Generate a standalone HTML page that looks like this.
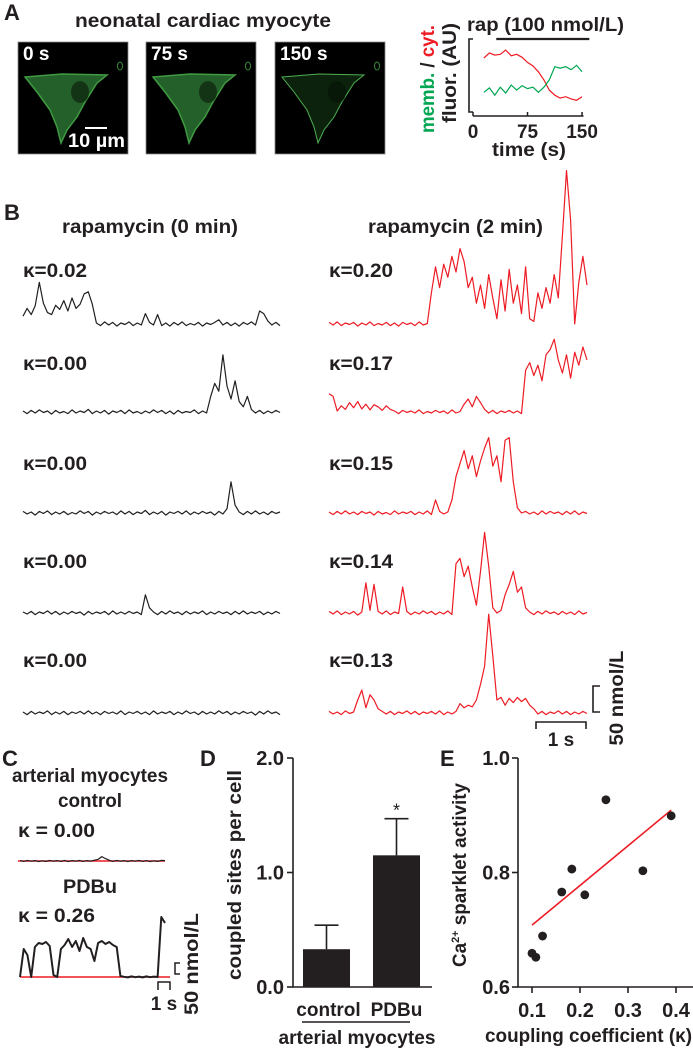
<!DOCTYPE html>
<html><head><meta charset="utf-8">
<style>
html,body{margin:0;padding:0;background:#fff;}
svg{display:block;font-family:"Liberation Sans",Arial,sans-serif;font-weight:bold;}
text{fill:#231f20;}
</style></head>
<body>
<svg id="fig" width="693" height="1050" viewBox="0 0 693 1050" xmlns="http://www.w3.org/2000/svg">
<!-- Panel A -->
<g>
<text x="4" y="20" font-size="22">A</text>
<text x="75" y="27" font-size="19" textLength="256" lengthAdjust="spacingAndGlyphs">neonatal cardiac myocyte</text>
<g id="images"></g>
<g id="achart"></g>
<text x="467" y="31" font-size="19" textLength="157" lengthAdjust="spacingAndGlyphs">rap (100 nmol/L)</text>
<text transform="translate(434,79) rotate(-90)" text-anchor="middle" font-size="19" textLength="108" lengthAdjust="spacingAndGlyphs"><tspan style="fill:#00a651">memb.</tspan> / <tspan style="fill:#ed1c24">cyt.</tspan></text>
<text transform="translate(456,73) rotate(-90)" text-anchor="middle" font-size="19" textLength="100" lengthAdjust="spacingAndGlyphs">fluor. (AU)</text>
<text x="529" y="156" text-anchor="middle" font-size="19" textLength="74" lengthAdjust="spacingAndGlyphs">time (s)</text>
</g>
<!-- Panel B -->
<g>
<text x="4" y="220" font-size="22">B</text>
<text x="62" y="233" font-size="19" textLength="176" lengthAdjust="spacingAndGlyphs">rapamycin (0 min)</text>
<text x="368" y="233" font-size="19" textLength="175" lengthAdjust="spacingAndGlyphs">rapamycin (2 min)</text>
<g id="traces"></g>
<path d="M600,686 H593 V712 H600" fill="none" stroke="#231f20" stroke-width="1.6"/>
<path d="M536,729 V722 H586 V729" fill="none" stroke="#231f20" stroke-width="1.6"/>
<text x="561" y="746" text-anchor="middle" font-size="19">1 s</text>
<text transform="translate(623,698) rotate(-90)" text-anchor="middle" font-size="19" textLength="95" lengthAdjust="spacingAndGlyphs">50 nmol/L</text>
</g>
<!-- Panel C -->
<g>
<text x="2" y="766" font-size="22">C</text>
<text x="12" y="782" font-size="19" textLength="156" lengthAdjust="spacingAndGlyphs">arterial myocytes</text>
<text x="90" y="807" text-anchor="middle" font-size="19" textLength="64" lengthAdjust="spacingAndGlyphs">control</text>
<text x="18" y="837" font-size="19" textLength="77" lengthAdjust="spacingAndGlyphs">κ = 0.00</text>
<text x="90" y="893" text-anchor="middle" font-size="19" textLength="54" lengthAdjust="spacingAndGlyphs">PDBu</text>
<text x="18" y="922" font-size="19" textLength="77" lengthAdjust="spacingAndGlyphs">κ = 0.26</text>
<g id="ctraces"></g>
<path d="M180,963 H175 V974 H180" fill="none" stroke="#231f20" stroke-width="1.5"/>
<path d="M158,990 V982 H170 V990" fill="none" stroke="#231f20" stroke-width="1.5"/>
<text x="164" y="1010" text-anchor="middle" font-size="19">1 s</text>
<text transform="translate(198,964) rotate(-90)" text-anchor="middle" font-size="19" textLength="102" lengthAdjust="spacingAndGlyphs">50 nmol/L</text>
</g>
<!-- Panel D -->
<g id="dchart">
<text x="200" y="766" font-size="22">D</text>
<text transform="translate(241,875) rotate(-90)" text-anchor="middle" font-size="19" textLength="210" lengthAdjust="spacingAndGlyphs">coupled sites per cell</text>
<line x1="302" y1="1022" x2="410" y2="1022" stroke="#231f20" stroke-width="1.5"/>
<text x="357" y="1044" text-anchor="middle" font-size="19" textLength="157" lengthAdjust="spacingAndGlyphs">arterial myocytes</text>
</g>
<!-- Panel E -->
<g id="echart">
<text x="440" y="766" font-size="22">E</text>
<text transform="translate(466,875) rotate(-90)" text-anchor="middle" font-size="19" textLength="184" lengthAdjust="spacingAndGlyphs">Ca<tspan font-size="11" dy="-7">2+</tspan><tspan dy="7"> sparklet activity</tspan></text>
<text x="485" y="1042" font-size="19" textLength="207" lengthAdjust="spacingAndGlyphs">coupling coefficient (κ)</text>
</g>
</svg>
<script>
const NS='http://www.w3.org/2000/svg';
function mk(tag,parent){const e=document.createElementNS(NS,tag);parent.appendChild(e);return e;}

// ---------- Panel A data ----------
const imgLabels=['0 s','75 s','150 s'];
const imgX=[18,146,275];
const timeSec=[15,22.5,30,37.5,45,52.5,60,67.5,75,82.5,90,97.5,105,112.5,120,127.5,135,142.5,150];
const cytAU=[0.74,0.81,0.78,0.79,0.85,0.77,0.79,0.75,0.68,0.63,0.55,0.44,0.30,0.23,0.19,0.21,0.18,0.16,0.21];
const membAU=[0.27,0.33,0.23,0.34,0.26,0.37,0.30,0.36,0.32,0.34,0.27,0.34,0.44,0.62,0.60,0.62,0.58,0.64,0.55];
const timeTicks=[0,75,150];
const rapStart=32, rapEnd=160;

// ---------- Panel B data (nmol/L) ----------
const left1=[15,30,18,35,80,40,22,18,36,28,45,25,50,30,38,58,62,38,2,-3,4,-2,3,-4,2,-1,4,-3,2,-2,20,3,-2,18,-3,2,-4,3,-2,4,-3,1,-2,3,-4,2,-1,3,8,-2,3,-3,2,-4,3,-1,4,-2,25,20,6,-2,3,-3];
const right1=[3,-2,4,-3,2,-1,3,-4,2,-2,4,-3,1,-2,3,-3,2,-4,3,-1,2,-3,4,-2,1,60,110,70,115,90,130,100,145,120,70,90,40,75,30,95,50,10,85,25,105,40,75,20,110,10,5,60,30,70,40,95,50,170,295,200,0,80,130,75];
const left2=[2,-3,3,-2,4,-1,2,-4,3,-2,1,-3,4,-2,2,-1,5,-3,2,-2,3,-4,2,-1,3,-3,4,-2,1,-3,2,-2,4,-1,3,-3,2,-4,3,-2,1,-1,4,-3,2,-2,30,55,40,110,50,25,60,20,10,30,5,-2,3,-3,2,-2,3,-1];
const right2=[35,30,2,12,5,18,8,20,6,15,4,14,10,3,12,5,2,-3,3,-1,2,-2,4,-3,1,-2,3,-1,2,-3,4,-2,1,15,25,10,30,18,5,-2,3,-3,2,-1,3,-2,2,-3,80,95,70,90,60,110,120,140,100,75,110,65,115,90,125,100];
const left3=[3,-2,2,-4,3,-1,4,-3,2,-2,3,-3,1,-2,4,-1,3,-4,2,-2,3,-1,2,-3,4,-2,3,-3,2,-1,5,-3,2,-2,3,-4,2,-1,3,-2,4,-3,2,-2,3,-1,2,-4,3,-2,8,60,15,2,-3,3,-2,4,-2,2,-3,3,-1,2];
const right3=[2,-3,3,-2,4,-2,2,-3,3,-1,2,-4,3,-2,1,-3,4,-2,2,-1,3,-3,2,-2,4,-3,25,3,-2,2,25,70,95,120,85,110,70,100,125,145,90,110,60,140,145,60,10,0,3,-2,2,-3,4,-2,3,-1,2,-3,3,-2,4,-3,2,-1];
const left4=[2,-2,3,-3,2,-1,4,-2,3,-3,2,-2,3,-1,2,-4,3,-2,2,-1,3,-3,4,-2,2,-2,3,-1,2,-3,35,10,2,-3,3,-2,4,-1,2,-3,3,-2,2,-1,4,-3,2,-2,3,-1,2,-3,3,-2,4,-2,2,-1,3,-3,2,-2,3,-1];
const right4=[3,-2,4,-3,2,-2,3,-4,2,58,5,55,3,-2,4,-3,2,-1,50,3,-3,2,-2,4,-1,3,-3,2,-2,4,-3,95,105,70,90,50,15,80,155,90,10,0,5,35,55,80,40,50,10,2,-3,3,-2,4,-1,2,-3,3,-2,2,-3,4,-2,1];
const left5=[2,-3,3,-2,2,-1,4,-3,2,-2,3,-3,2,-1,3,-2,4,-2,2,-3,3,-1,2,-2,4,-3,2,-1,3,-2,2,-3,4,-2,2,-1,3,-3,2,-2,4,-1,2,-3,3,-2,2,-2,4,-1,3,-3,2,-2,3,-1,2,-4,3,-2,4,-1,2,-3];
const right5=[3,-2,2,-3,4,-1,2,25,44,10,35,25,8,3,-2,3,-3,2,-1,4,-2,3,-3,2,-1,3,-2,4,-3,2,-2,3,18,10,15,12,25,55,90,190,110,25,30,15,28,20,30,22,28,15,8,-2,3,-3,2,-1,4,-2,3,-3,2,-2,3,-1];
const kappaLeft=['κ=0.02','κ=0.00','κ=0.00','κ=0.00','κ=0.00'];
const kappaRight=['κ=0.20','κ=0.17','κ=0.15','κ=0.14','κ=0.13'];

// ---------- Panel C data ----------
const ctrlTrace=[2,-2,3,-1,2,-3,1,-2,3,-1,2,-2,3,-3,2,-1,3,-2,2,-1,4,8,22,12,4,-2,3,-1,2,-3,2,-1,3,-2,2,-3,1,-2,3,2];
const pdbuTrace=[0,140,110,0,150,170,165,175,155,10,0,140,160,190,150,180,130,195,150,140,80,170,180,165,175,160,150,5,1,-2,3,-1,2,-2,3,-1,2,0,300,270];

// ---------- Panel D data ----------
const barCats=['control','PDBu'];
const barMeans=[0.33,1.15];
const barErrs=[0.21,0.32];
const dTicks=[0,1,2];
const dTickLabels=['0.0','1.0','2.0'];

// ---------- Panel E data ----------
const kappaVals=[0.100,0.108,0.122,0.162,0.183,0.21,0.254,0.331,0.39];
const activityVals=[0.659,0.652,0.689,0.766,0.806,0.761,0.927,0.803,0.899];
const fitK=[0.1,0.39];
const fitA=[0.708,0.909];
const eYTicks=[0.6,0.8,1.0];
const eYTickLabels=['0.6','0.8','1.0'];
const eXTicks=[0.1,0.2,0.3,0.4];
const eXTickLabels=['0.1','0.2','0.3','0.4'];

// ---------- Panel A drawing ----------
const imgG=document.getElementById('images');
const cellPts=[[25,77],[62,74],[107,75],[97,83],[85,102],[77,117],[67,130],[61,143],[57,127],[50,110],[37,92]];
imgLabels.forEach((lab,k)=>{
  const ox=imgX[k]-18;
  const r=mk('rect',imgG);
  
  
  r.setAttribute('x',imgX[k]);r.setAttribute('y',42);r.setAttribute('width',110);r.setAttribute('height',112);
  r.setAttribute('fill','#000');r.setAttribute('stroke','#888');r.setAttribute('stroke-width','0.8');
  const p=mk('polygon',imgG);
  
  
  p.setAttribute('points',cellPts.map(q=>(q[0]+ox)+','+q[1]).join(' '));
  p.setAttribute('fill',k===2?'#0c220d':'#24602a');
  p.setAttribute('stroke',k===2?'#4fae52':'#3f9a42');p.setAttribute('stroke-width',k===2?'1':'1.5');
  const n=mk('ellipse',imgG);
  
  
  n.setAttribute('cx',80+ox);n.setAttribute('cy',92);n.setAttribute('rx',9);n.setAttribute('ry',11);
  n.setAttribute('fill',k===2?'#081808':'#143515');
  const bl=mk('ellipse',imgG);
  
  
  bl.setAttribute('cx',120+ox);bl.setAttribute('cy',66);bl.setAttribute('rx',2.5);bl.setAttribute('ry',4);
  bl.setAttribute('fill','none');bl.setAttribute('stroke','#3a8a3c');
  const t=mk('text',imgG);
  
  
  t.setAttribute('x',imgX[k]+5);t.setAttribute('y',60);t.setAttribute('font-size','19');
  t.setAttribute('style','fill:#fff');t.textContent=lab;
});
const sb=mk('line',imgG);


sb.setAttribute('x1',85);sb.setAttribute('x2',107);sb.setAttribute('y1',128);sb.setAttribute('y2',128);
sb.setAttribute('stroke','#fff');sb.setAttribute('stroke-width','2');
const sbt=mk('text',imgG);


sbt.setAttribute('x',68);sbt.setAttribute('y',147);sbt.setAttribute('font-size','19');
sbt.setAttribute('textLength','57');sbt.setAttribute('lengthAdjust','spacingAndGlyphs');sbt.setAttribute('style','fill:#fff');sbt.textContent='10 µm';

const aG=document.getElementById('achart');
const ax=t=>473+t*0.727, ay=v=>112-v*73;
const ya=mk('path',aG);


ya.setAttribute('d','M473,39 H469 V112 H473');ya.setAttribute('fill','none');ya.setAttribute('stroke','#231f20');ya.setAttribute('stroke-width','1.6');
const xa=mk('line',aG);


xa.setAttribute('x1',ax(0));xa.setAttribute('x2',ax(152));xa.setAttribute('y1',116);xa.setAttribute('y2',116);
xa.setAttribute('stroke','#231f20');xa.setAttribute('stroke-width','1.6');
timeTicks.forEach(t=>{
  const l=mk('line',aG);
  
  
  l.setAttribute('x1',ax(t));l.setAttribute('x2',ax(t));l.setAttribute('y1',112);l.setAttribute('y2',116);l.setAttribute('stroke','#231f20');l.setAttribute('stroke-width','1.5');
  const tx=mk('text',aG);
  
  
  tx.setAttribute('x',ax(t));tx.setAttribute('y',138);tx.setAttribute('text-anchor','middle');tx.setAttribute('font-size','19');tx.textContent=String(t);
});
const rb=mk('line',aG);


rb.setAttribute('x1',ax(rapStart));rb.setAttribute('x2',ax(rapEnd));rb.setAttribute('y1',39);rb.setAttribute('y2',39);rb.setAttribute('stroke','#231f20');rb.setAttribute('stroke-width','2.2');
[[cytAU,'#ed1c24','cyt-line'],[membAU,'#00a651','memb-line']].forEach(s=>{
  const pl=mk('polyline',aG);
  
  
  pl.setAttribute('points',s[0].map((v,i)=>ax(timeSec[i]).toFixed(1)+','+ay(v).toFixed(1)).join(' '));
  pl.setAttribute('fill','none');pl.setAttribute('stroke',s[1]);pl.setAttribute('stroke-width','1.2');
});

// ---------- Panel B drawing ----------
const trG=document.getElementById('traces');
const rowBase=[324,412,513,613,713];
const rowLabelY=[277,370,470,568,667];
const leftTr=[left1,left2,left3,left4,left5];
const rightTr=[right1,right2,right3,right4,right5];
const pxPerNm=0.52;
function drawTrace(g,vals,x0,x1,base,scale,color,name,w){
  const n=vals.length;
  const pl=mk('polyline',g);
  
  
  pl.setAttribute('points',vals.map((v,i)=>(x0+i*(x1-x0)/(n-1)).toFixed(1)+','+(base-v*scale).toFixed(1)).join(' '));
  pl.setAttribute('fill','none');pl.setAttribute('stroke',color);pl.setAttribute('stroke-width',w);pl.setAttribute('stroke-linejoin','round');
}
rowBase.forEach((b,r)=>{
  drawTrace(trG,leftTr[r],23,280,b,pxPerNm,'#231f20','trace-0min-'+(r+1),'1.2');
  drawTrace(trG,rightTr[r],329,587,b,pxPerNm,'#ed1c24','trace-2min-'+(r+1),'1.2');
  const tl=mk('text',trG);
  
  
  tl.setAttribute('x',23);tl.setAttribute('y',rowLabelY[r]);tl.setAttribute('font-size','19');tl.setAttribute('textLength','64');tl.setAttribute('lengthAdjust','spacingAndGlyphs');tl.textContent=kappaLeft[r];
  const tr=mk('text',trG);
  
  
  tr.setAttribute('x',329);tr.setAttribute('y',rowLabelY[r]);tr.setAttribute('font-size','19');tr.setAttribute('textLength','64');tr.setAttribute('lengthAdjust','spacingAndGlyphs');tr.textContent=kappaRight[r];
});

// ---------- Panel C drawing ----------
const cG=document.getElementById('ctraces');
[[861,18,165,'control-baseline'],[977,20,170,'pdbu-baseline']].forEach(s=>{
  const l=mk('line',cG);
  
  
  l.setAttribute('x1',s[1]);l.setAttribute('x2',s[2]);l.setAttribute('y1',s[0]);l.setAttribute('y2',s[0]);l.setAttribute('stroke','#ed1c24');l.setAttribute('stroke-width','1.6');
});
drawTrace(cG,ctrlTrace,20,165,861,0.2,'#231f20','control-trace','1.2');
drawTrace(cG,pdbuTrace,20,165,977,0.2,'#231f20','pdbu-trace','2');

// ---------- Panel D drawing ----------
const dG=document.getElementById('dchart');
const yD=v=>987-v*114.5;
const barX=[303,373], barW=47;
const dax=mk('path',dG);


dax.setAttribute('d','M293,'+yD(2)+' V987 H432');dax.setAttribute('fill','none');dax.setAttribute('stroke','#231f20');dax.setAttribute('stroke-width','1.6');
dTicks.forEach((t,i)=>{
  const l=mk('line',dG);
  
  
  l.setAttribute('x1',287);l.setAttribute('x2',293);l.setAttribute('y1',yD(t));l.setAttribute('y2',yD(t));l.setAttribute('stroke','#231f20');l.setAttribute('stroke-width','1.6');
  const tx=mk('text',dG);
  
  
  tx.setAttribute('x',284);tx.setAttribute('y',yD(t)+7);tx.setAttribute('text-anchor','end');tx.setAttribute('font-size','20');tx.textContent=dTickLabels[i];
});
barCats.forEach((c,i)=>{
  const cx=barX[i]+barW/2;
  const e=mk('path',dG);
  
  
  e.setAttribute('d','M'+cx+','+yD(barMeans[i])+' V'+yD(barMeans[i]+barErrs[i])+' M'+(cx-12)+','+yD(barMeans[i]+barErrs[i])+' H'+(cx+12));
  e.setAttribute('stroke','#231f20');e.setAttribute('stroke-width','1.6');e.setAttribute('fill','none');
  const r=mk('rect',dG);
  
  
  r.setAttribute('x',barX[i]);r.setAttribute('y',yD(barMeans[i]));r.setAttribute('width',barW);r.setAttribute('height',987-yD(barMeans[i]));r.setAttribute('fill','#231f20');
  const tx=mk('text',dG);
  
  
  tx.setAttribute('x',cx+(i===0?2:0));tx.setAttribute('y',1016);tx.setAttribute('text-anchor','middle');tx.setAttribute('font-size','19');tx.textContent=c;
});
const ast=mk('text',dG);


ast.setAttribute('x',barX[1]+barW/2);ast.setAttribute('y',yD(barMeans[1]+barErrs[1])-2);ast.setAttribute('text-anchor','middle');ast.setAttribute('font-size','18');ast.setAttribute('font-weight','normal');ast.textContent='*';

// ---------- Panel E drawing ----------
const eG=document.getElementById('echart');
const xE=k=>484+k*480, yE=v=>987-(v-0.6)*572.5;
const eax=mk('path',eG);


eax.setAttribute('d','M518,'+yE(1.0)+' V987 H693');eax.setAttribute('fill','none');eax.setAttribute('stroke','#231f20');eax.setAttribute('stroke-width','1.6');
eYTicks.forEach((t,i)=>{
  const l=mk('line',eG);
  
  
  l.setAttribute('x1',512);l.setAttribute('x2',518);l.setAttribute('y1',yE(t));l.setAttribute('y2',yE(t));l.setAttribute('stroke','#231f20');l.setAttribute('stroke-width','1.6');
  const tx=mk('text',eG);
  
  
  tx.setAttribute('x',510);tx.setAttribute('y',yE(t)+7);tx.setAttribute('text-anchor','end');tx.setAttribute('font-size','20');tx.textContent=eYTickLabels[i];
});
eXTicks.forEach((t,i)=>{
  const l=mk('line',eG);
  
  
  l.setAttribute('x1',xE(t));l.setAttribute('x2',xE(t));l.setAttribute('y1',987);l.setAttribute('y2',993);l.setAttribute('stroke','#231f20');l.setAttribute('stroke-width','1.6');
  const tx=mk('text',eG);
  
  
  tx.setAttribute('x',xE(t));tx.setAttribute('y',1017);tx.setAttribute('text-anchor','middle');tx.setAttribute('font-size','20');tx.textContent=eXTickLabels[i];
});
const fl=mk('line',eG);


fl.setAttribute('x1',xE(fitK[0]));fl.setAttribute('y1',yE(fitA[0]));fl.setAttribute('x2',xE(fitK[1]));fl.setAttribute('y2',yE(fitA[1]));fl.setAttribute('stroke','#ed1c24');fl.setAttribute('stroke-width','1.6');
kappaVals.forEach((k,i)=>{
  const c=mk('circle',eG);
  
  
  c.setAttribute('cx',xE(k));c.setAttribute('cy',yE(activityVals[i]));c.setAttribute('r',4.4);c.setAttribute('fill','#231f20');
});
</script>
</body></html>
